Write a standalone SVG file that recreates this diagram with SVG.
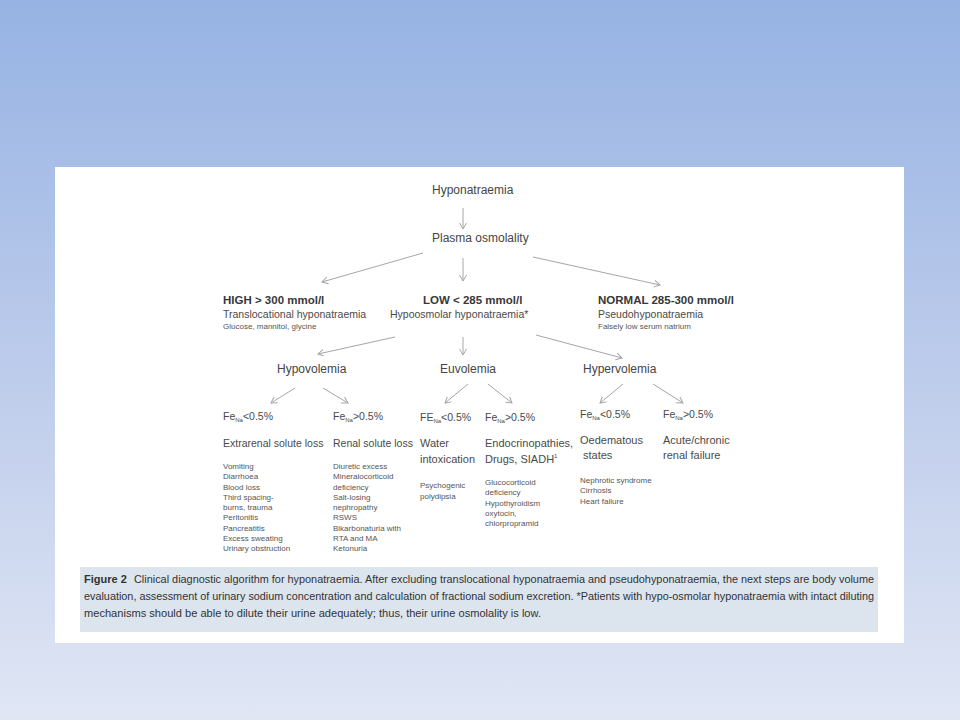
<svg xmlns="http://www.w3.org/2000/svg" width="960" height="720" viewBox="0 0 960 720">
<defs>
<linearGradient id="bg" x1="0" y1="0" x2="0" y2="1">
<stop offset="0" stop-color="#96b3e3"/>
<stop offset="0.5" stop-color="#bccbeb"/>
<stop offset="1" stop-color="#e0e6f4"/>
</linearGradient>
<marker id="ah" markerUnits="userSpaceOnUse" markerWidth="10" markerHeight="10" refX="6" refY="3.5" orient="auto">
<path d="M0,0 L6,3.5 L0,7" fill="none" stroke="#a6a6a6" stroke-width="1"/>
</marker>
<style>
text{font-family:"Liberation Sans",Arial,sans-serif;fill:#4a4a4a}
.t12{font-size:12px;fill:#454545}
.hd{font-size:11.5px;font-weight:bold;fill:#383838}
.t10{font-size:10.5px}
.t11{font-size:11px}
.sm{font-size:8px;fill:#555}
.sub{font-size:6px}
.cap{font-size:11px;fill:#333}
.conn line{stroke:#a6a6a6;stroke-width:1;marker-end:url(#ah)}
</style>
</defs>
<rect x="0" y="0" width="960" height="720" fill="url(#bg)"/>
<rect x="55" y="167" width="849" height="476" fill="#ffffff"/>

<g id="connectors" class="conn">
<line x1="463" y1="208" x2="463" y2="229"/>
<line x1="423" y1="253" x2="322" y2="282"/>
<line x1="463" y1="258" x2="463" y2="281"/>
<line x1="533" y1="257" x2="660" y2="285"/>
<line x1="395" y1="337" x2="318" y2="354"/>
<line x1="463" y1="337" x2="463" y2="355"/>
<line x1="536" y1="335" x2="622" y2="358"/>
<line x1="295" y1="388" x2="271" y2="403"/>
<line x1="323" y1="388" x2="348" y2="403"/>
<line x1="468" y1="384" x2="445" y2="403"/>
<line x1="488" y1="384" x2="512" y2="403"/>
<line x1="623" y1="384" x2="600" y2="403"/>
<line x1="653" y1="384" x2="683" y2="403"/>
</g>

<g id="hyponatraemia"><text class="t12" x="432" y="194">Hyponatraemia</text></g>
<g id="plasma-osmolality"><text class="t12" x="432" y="242">Plasma osmolality</text></g>

<g id="high">
<text class="hd" x="223" y="304">HIGH &gt; 300 mmol/l</text>
<text class="t10" x="223" y="318">Translocational hyponatraemia</text>
<text class="sm" x="223" y="329">Glucose, mannitol, glycine</text>
</g>
<g id="low">
<text class="hd" x="423" y="304">LOW &lt; 285 mmol/l</text>
<text class="t10" x="390" y="318">Hypoosmolar hyponatraemia*</text>
</g>
<g id="normal">
<text class="hd" x="598" y="304">NORMAL 285-300 mmol/l</text>
<text class="t10" x="598" y="318">Pseudohyponatraemia</text>
<text class="sm" x="598" y="329">Falsely low serum natrium</text>
</g>

<g id="hypovolemia"><text class="t12" x="277" y="373">Hypovolemia</text></g>
<g id="euvolemia"><text class="t12" x="440" y="373">Euvolemia</text></g>
<g id="hypervolemia"><text class="t12" x="583" y="373">Hypervolemia</text></g>

<g id="hypo-low">
<text class="t10" x="223" y="420">Fe<tspan class="sub" dy="2">Na</tspan><tspan dy="-2">&lt;0.5%</tspan></text>
<text class="t10" x="223" y="447">Extrarenal solute loss</text>
<text class="sm" x="223" y="469">Vomiting<tspan x="223" dy="10.25">Diarrhoea</tspan><tspan x="223" dy="10.25">Blood loss</tspan><tspan x="223" dy="10.25">Third spacing-</tspan><tspan x="223" dy="10.25">burns, trauma</tspan><tspan x="223" dy="10.25">Peritonitis</tspan><tspan x="223" dy="10.25">Pancreatitis</tspan><tspan x="223" dy="10.25">Excess sweating</tspan><tspan x="223" dy="10.25">Urinary obstruction</tspan></text>
</g>
<g id="hypo-high">
<text class="t10" x="333" y="420">Fe<tspan class="sub" dy="2">Na</tspan><tspan dy="-2">&gt;0.5%</tspan></text>
<text class="t10" x="333" y="447">Renal solute loss</text>
<text class="sm" x="333" y="469">Diuretic excess<tspan x="333" dy="10.25">Mineralocorticoid</tspan><tspan x="333" dy="10.25">deficiency</tspan><tspan x="333" dy="10.25">Salt-losing</tspan><tspan x="333" dy="10.25">nephropathy</tspan><tspan x="333" dy="10.25">RSWS</tspan><tspan x="333" dy="10.25">Bikarbonaturia with</tspan><tspan x="333" dy="10.25">RTA and MA</tspan><tspan x="333" dy="10.25">Ketonuria</tspan></text>
</g>
<g id="eu-low">
<text class="t10" x="420" y="421">FE<tspan class="sub" dy="2">Na</tspan><tspan dy="-2">&lt;0.5%</tspan></text>
<text class="t11" x="420" y="447">Water<tspan x="420" dy="16">intoxication</tspan></text>
<text class="sm" x="420" y="488">Psychogenic<tspan x="420" dy="10.5">polydipsia</tspan></text>
</g>
<g id="eu-high">
<text class="t10" x="485" y="421">Fe<tspan class="sub" dy="2">Na</tspan><tspan dy="-2">&gt;0.5%</tspan></text>
<text class="t11" x="485" y="447">Endocrinopathies,<tspan x="485" dy="16">Drugs, SIADH</tspan><tspan font-size="6" dy="-5">1</tspan></text>
<text class="sm" x="485" y="485">Glucocorticoid<tspan x="485" dy="10.25">deficiency</tspan><tspan x="485" dy="10.25">Hypothyroidism</tspan><tspan x="485" dy="10.25">oxytocin,</tspan><tspan x="485" dy="10.25">chlorpropramid</tspan></text>
</g>
<g id="hyper-low">
<text class="t10" x="580" y="418">Fe<tspan class="sub" dy="2">Na</tspan><tspan dy="-2">&lt;0.5%</tspan></text>
<text class="t11" x="580" y="444">Oedematous<tspan x="583" dy="14.5">states</tspan></text>
<text class="sm" x="580" y="483">Nephrotic syndrome<tspan x="580" dy="10.3">Cirrhosis</tspan><tspan x="580" dy="10.3">Heart failure</tspan></text>
</g>
<g id="hyper-high">
<text class="t10" x="663" y="418">Fe<tspan class="sub" dy="2">Na</tspan><tspan dy="-2">&gt;0.5%</tspan></text>
<text class="t11" x="663" y="444">Acute/chronic<tspan x="663" dy="14.5">renal failure</tspan></text>
</g>

<g id="caption">
<rect x="80" y="567" width="798" height="65" fill="#dce4ee"/>
<text class="cap" x="84" y="583" font-weight="bold">Figure 2</text>
<text class="cap" x="134" y="583" textLength="740" lengthAdjust="spacingAndGlyphs">Clinical diagnostic algorithm for hyponatraemia. After excluding translocational hyponatraemia and pseudohyponatraemia, the next steps are body volume</text>
<text class="cap" x="84" y="600" textLength="790" lengthAdjust="spacingAndGlyphs">evaluation, assessment of urinary sodium concentration and calculation of fractional sodium excretion. *Patients with hypo-osmolar hyponatraemia with intact diluting</text>
<text class="cap" x="84" y="617" textLength="457" lengthAdjust="spacingAndGlyphs">mechanisms should be able to dilute their urine adequately; thus, their urine osmolality is low.</text>
</g>
</svg>
